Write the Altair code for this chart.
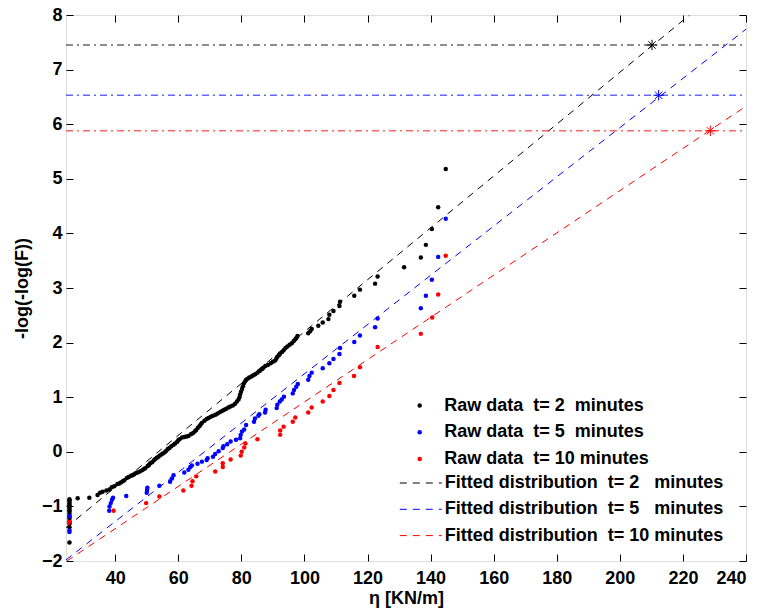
import altair as alt
import pandas as pd

FONT = "Liberation Sans"
NB = "\u00a0"

# ---------------- data ----------------
raw_labels = [
    f"Raw data{NB}{NB}t= 2{NB}{NB}minutes",
    f"Raw data{NB}{NB}t= 5{NB}{NB}minutes",
    f"Raw data{NB}{NB}t= 10 minutes",
]
fit_labels = [
    f"Fitted distribution{NB}{NB}t= 2{NB}{NB}{NB}minutes",
    f"Fitted distribution{NB}{NB}t= 5{NB}{NB}{NB}minutes",
    f"Fitted distribution{NB}{NB}t= 10 minutes",
]
colors = ["#000000", "#0000ff", "#ff0000"]

# t = 2 minutes raw data
eta_t2 = [25.5] * 16 + [
    28.1, 31.8, 34.4, 35.2, 36.0, 37.2, 38.2, 38.9, 39.7, 40.7, 41.3, 41.8, 42.4, 42.9,
    43.7, 44.3, 45.0, 45.5, 46.0, 46.6, 47.1, 47.8, 48.5, 49.0, 49.5, 50.3, 50.7, 51.1,
    51.7, 52.2, 52.7, 53.2, 53.7, 54.1, 54.6, 55.1, 55.7, 56.2, 56.7, 57.2, 57.8, 58.5,
    59.0, 59.6, 60.0, 60.4, 61.2, 61.9, 62.6, 63.2, 64.0, 64.6, 65.2, 65.7, 66.2, 66.7,
    67.1, 67.5, 68.3, 69.0, 69.6, 70.3, 71.0, 71.8, 72.5, 73.3, 74.0, 74.6, 75.2, 75.9,
    76.5, 77.3, 78.0, 78.6, 79.1, 79.4, 79.6, 79.9, 80.2, 80.5, 80.8, 81.2, 81.5, 82.0,
    82.5, 83.2, 83.8, 84.4, 85.1, 85.8, 86.5, 87.0, 87.6, 88.4, 89.3, 90.0, 90.7, 91.1,
    91.4, 91.9, 92.3, 92.9, 93.4, 94.0, 94.6, 95.3, 96.0, 96.6, 97.1, 97.5, 97.8, 101.2,
    101.8, 102.3, 104.4, 105.8, 107.6, 107.9, 109.2, 111.1, 111.3, 115.8, 117.6, 122.4,
    123.2, 131.6, 136.9, 138.5, 140.4, 142.4, 144.8]
val_t2 = [-0.87, -0.89, -0.92, -0.95, -0.98, -1.01, -1.04, -1.07, -1.10, -1.14, -1.18,
          -1.22, -1.27, -1.32, -1.38, -1.66] + [
    -0.85, -0.84, -0.79, -0.75, -0.73, -0.71, -0.69, -0.65, -0.63, -0.59, -0.58, -0.56,
    -0.54, -0.52, -0.48, -0.46, -0.44, -0.43, -0.41, -0.39, -0.38, -0.36, -0.34, -0.32,
    -0.30, -0.26, -0.24, -0.21, -0.19, -0.16, -0.13, -0.11, -0.09, -0.07, -0.05, -0.03,
    -0.01, 0.02, 0.05, 0.07, 0.10, 0.13, 0.15, 0.18, 0.21, 0.23, 0.26, 0.27, 0.28, 0.29,
    0.32, 0.34, 0.37, 0.40, 0.44, 0.47, 0.50, 0.53, 0.57, 0.60, 0.62, 0.64, 0.66, 0.68,
    0.70, 0.73, 0.75, 0.77, 0.79, 0.81, 0.83, 0.85, 0.88, 0.92, 0.96, 1.00, 1.05, 1.10,
    1.15, 1.20, 1.25, 1.29, 1.32, 1.34, 1.36, 1.38, 1.40, 1.42, 1.45, 1.48, 1.51, 1.54,
    1.57, 1.59, 1.62, 1.65, 1.67, 1.71, 1.74, 1.77, 1.80, 1.83, 1.86, 1.90, 1.93, 1.96,
    1.99, 2.03, 2.06, 2.09, 2.12, 2.17, 2.21, 2.25, 2.31, 2.37, 2.43, 2.51, 2.58, 2.67,
    2.75, 2.86, 2.97, 3.08, 3.21, 3.38, 3.56, 3.79, 4.08, 4.48, 5.18]

# t = 5 minutes raw data
eta_t5 = [25.5, 25.5, 25.5,
          38.1, 38.2, 38.6, 39.0, 39.3, 43.5, 50.0, 50.1, 50.2, 54.0, 57.4, 58.0, 58.5,
          61.9, 63.2, 63.8, 64.3, 66.1, 67.5, 69.0, 69.3, 71.0, 71.7, 72.8, 74.1, 74.3,
          75.5, 76.6, 78.3, 79.6, 79.8, 80.2, 80.9, 81.5, 84.0, 84.3, 85.4, 85.7, 87.5,
          87.7, 91.2, 91.4, 92.2, 92.8, 93.5, 96.3, 96.7, 97.4, 97.9, 101.2, 101.6, 102.3,
          105.8, 107.9, 109.2, 111.1, 111.3, 115.8, 117.6, 122.4, 123.2, 136.9, 138.5,
          140.4, 142.4, 144.8]
val_t5 = [-1.18, -1.44, -1.47,
          -1.08, -1.00, -0.94, -0.88, -0.84, -0.81, -0.75, -0.70, -0.66, -0.62, -0.55,
          -0.49, -0.43, -0.38, -0.33, -0.28, -0.25, -0.22, -0.18, -0.15, -0.12, -0.09,
          -0.04, 0.01, 0.07, 0.10, 0.14, 0.19, 0.22, 0.25, 0.31, 0.37, 0.41, 0.49, 0.55,
          0.61, 0.66, 0.69, 0.72, 0.77, 0.80, 0.86, 0.92, 0.96, 1.01, 1.07, 1.13, 1.19,
          1.24, 1.32, 1.39, 1.45, 1.53, 1.62, 1.70, 1.79, 1.90, 2.01, 2.13, 2.28, 2.44,
          2.63, 2.86, 3.15, 3.57, 4.27]

# t = 10 minutes raw data
eta_t10 = [25.5, 25.5, 39.5, 49.8, 54.0, 61.6, 64.2, 64.5, 65.7, 71.7, 74.1, 74.1, 76.6,
           79.8, 80.1, 80.9, 81.3, 85.1, 92.3, 92.3, 93.4, 96.3, 97.1, 101.2, 102.3,
           105.8, 107.9, 109.2, 111.1, 115.7, 117.6, 123.2, 136.9, 140.5, 142.4, 144.8]
val_t10 = [-1.28, -1.31, -1.08, -0.94, -0.82, -0.71, -0.62, -0.54, -0.45, -0.36, -0.28,
           -0.21, -0.14, -0.07, 0.00, 0.08, 0.15, 0.23, 0.31, 0.39, 0.46, 0.55, 0.63,
           0.72, 0.81, 0.92, 1.02, 1.13, 1.26, 1.39, 1.55, 1.92, 2.16, 2.46, 2.88, 3.59]

# fitted (Gumbel) lines: start / end points
fit_eta_start = [24.4, 24.4, 24.7]
fit_val_start = [-1.39, -1.98, -2.0]
fit_eta_end = [222.1, 240.0, 240.0]
fit_val_end = [8.0, 7.74, 6.33]

# design levels (horizontal dash-dot lines) and marked points
level_vals = [7.45, 6.53, 5.88]
star_eta = [210.2, 212.3, 228.7]

x_min, x_max = 24.4, 240.0
y_min, y_max = -2.0, 8.0
x_ticks = [40, 60, 80, 100, 120, 140, 160, 180, 200, 220, 240]
y_ticks = [-2, -1, 0, 1, 2, 3, 4, 5, 6, 7, 8]

# ---------------- tables ----------------
pts = pd.concat([
    pd.DataFrame({"eta": e, "val": v, "series": lab})
    for e, v, lab in zip([eta_t2, eta_t5, eta_t10], [val_t2, val_t5, val_t10], raw_labels)
], ignore_index=True)

fits = pd.DataFrame({
    "eta": fit_eta_start + fit_eta_end,
    "val": fit_val_start + fit_val_end,
    "fit": fit_labels + fit_labels,
})

xs = alt.Scale(domain=[x_min, x_max], nice=False, zero=False)
ys = alt.Scale(domain=[y_min, y_max], nice=False, zero=False)

lab_kw = dict(labelFont=FONT, labelFontSize=18, labelFontWeight="bold", labelColor="black",
              titleFont=FONT, titleFontSize=18, titleFontWeight="bold", titleColor="black",
              domain=False, grid=False)
tick_kw = dict(labels=False, domain=False, grid=False, ticks=True, tickSize=7,
               tickColor="black", tickWidth=1, offset=-7, title=None)

points = alt.Chart(pts).mark_circle(size=20, opacity=1).encode(
    x=alt.X("eta:Q", scale=xs,
            axis=alt.Axis(orient="bottom", values=x_ticks, ticks=False, labelPadding=8,
                          title="η [KN/m]", titlePadding=2, **lab_kw)),
    y=alt.Y("val:Q", scale=ys,
            axis=alt.Axis(orient="left", values=y_ticks, ticks=False, labelPadding=4,
                          title="-log(-log(F))", titlePadding=10, **lab_kw)),
    color=alt.Color("series:N",
                    scale=alt.Scale(domain=raw_labels, range=colors),
                    legend=alt.Legend(title=None, orient="none", direction="vertical",
                                      legendX=344.7, legendY=381.5, padding=0,
                                      symbolType="circle", symbolSize=20, symbolStrokeWidth=0,
                                      labelFont=FONT, labelFontSize=18, labelFontWeight="bold",
                                      labelColor="black", labelOffset=15.5, labelLimit=600,
                                      rowPadding=8.7)),
)

# wide horizontal stroke used as legend symbol (spans twice the nominal symbol box)
legend_dash_shape = "M-2,0L2,0"

fit_lines = alt.Chart(fits).mark_line(strokeDash=[7, 6], strokeWidth=1, clip=True).encode(
    x=alt.X("eta:Q", scale=xs, axis=alt.Axis(orient="bottom", values=x_ticks, **tick_kw)),
    y=alt.Y("val:Q", scale=ys, axis=alt.Axis(orient="left", values=y_ticks, **tick_kw)),
    stroke=alt.Stroke("fit:N",
                      scale=alt.Scale(domain=fit_labels, range=colors),
                      legend=alt.Legend(title=None, orient="none", direction="vertical",
                                        legendX=343.8, legendY=457.0, padding=0,
                                        symbolType=legend_dash_shape, symbolSize=441,
                                        symbolDash=[7, 6], symbolStrokeWidth=1,
                                        symbolFillColor="transparent",
                                        labelFont=FONT, labelFontSize=18, labelFontWeight="bold",
                                        labelColor="black", labelOffset=13, labelLimit=600,
                                        rowPadding=6.3)),
    detail="fit:N",
)

layers = [points, fit_lines]

star_shape = "M-1,0L1,0M0,-1L0,1M-0.7,-0.7L0.7,0.7M-0.7,0.7L0.7,-0.7"

for i in range(3):
    hl = pd.DataFrame({"x0": [x_min], "x1": [x_max], "val": [level_vals[i]]})
    if i == 0:
        xa = alt.Axis(orient="top", values=x_ticks, **tick_kw)
        ya = alt.Axis(orient="right", values=y_ticks, **tick_kw)
    else:
        xa = None
        ya = None
    rule = alt.Chart(hl).mark_rule(color=colors[i], strokeDash=[7, 4, 2, 4],
                                   strokeWidth=1.5, opacity=0.6).encode(
        x=alt.X("x0:Q", scale=xs, axis=xa),
        x2="x1:Q",
        y=alt.Y("val:Q", scale=ys, axis=ya),
    )
    st = pd.DataFrame({"eta": [star_eta[i]], "val": [level_vals[i]]})
    star = alt.Chart(st).mark_point(shape=star_shape, size=110, filled=False,
                                    strokeWidth=1, color=colors[i], opacity=1).encode(
        x=alt.X("eta:Q", scale=xs, axis=None),
        y=alt.Y("val:Q", scale=ys, axis=None),
    )
    layers += [rule, star]

chart = alt.layer(*layers).resolve_axis(x="independent", y="independent").properties(
    width=680, height=546,
    padding={"left": 66, "top": 15, "right": 21, "bottom": 53},
    autosize=alt.AutoSizeParams(type="none"),
).configure_view(stroke="black", strokeWidth=1).configure(background="white")

chart.save("out.html", embed_options={"renderer": "svg", "actions": False})
